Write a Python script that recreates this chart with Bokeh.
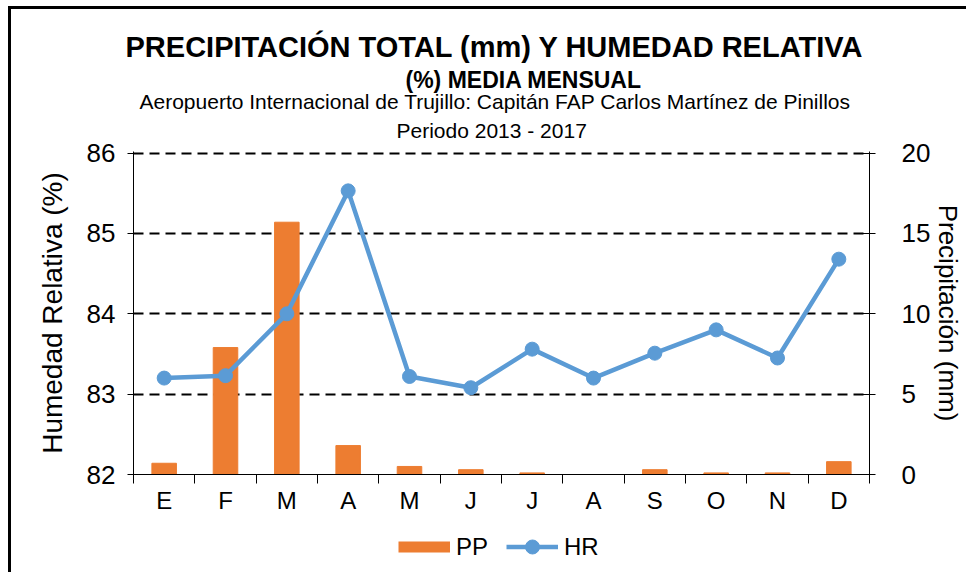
from bokeh.plotting import figure
from bokeh.layouts import column
from bokeh.models import (Range1d, LinearAxis, FixedTicker, Legend, LegendItem, Title,
                          ColumnDataSource)
from bokeh.embed import file_html
from bokeh.resources import INLINE

# ---- data ----
months = ["E", "F", "M", "A", "M", "J", "J", "A", "S", "O", "N", "D"]
pp = [0.7, 7.9, 15.7, 1.8, 0.5, 0.3, 0.1, 0.0, 0.3, 0.1, 0.1, 0.8]
hr = [83.20, 83.23, 84.00, 85.53, 83.22, 83.08, 83.56, 83.20, 83.51, 83.80, 83.45, 84.68]
hr_ticks = [82, 83, 84, 85, 86]
pp_ticks = [0, 5, 10, 15, 20]
series_names = ["PP", "HR"]

title1 = "PRECIPITACIÓN TOTAL (mm) Y HUMEDAD RELATIVA"
title2 = "(%) MEDIA MENSUAL"
sub1 = "Aeropuerto Internacional de Trujillo:  Capitán FAP Carlos Martínez de Pinillos"
sub2 = "Periodo 2013 - 2017"

FONT = "Liberation Sans"
ORANGE = "#ED7D31"
BLUE = "#5B9BD5"

xpos = [i + 0.5 for i in range(len(months))]
src = ColumnDataSource(dict(x=xpos, pp=pp, hr=hr))

pad = 0.02  # tiny headroom so the top dashed gridline is not clipped
hr_end = hr_ticks[-1] + pad
pp_end = pp_ticks[-1] * (hr_end - hr_ticks[0]) / (hr_ticks[-1] - hr_ticks[0])

W = 953
p = figure(width=W, height=511, frame_width=736, frame_height=323,
           x_range=Range1d(0, len(months)),
           y_range=Range1d(hr_ticks[0], hr_end),
           output_backend="svg", toolbar_location=None,
           min_border_left=122, min_border_right=95,
           min_border_top=142, min_border_bottom=46)
p.title.visible = False
p.outline_line_color = None
p.background_fill_color = "white"
p.border_fill_color = "white"

p.extra_y_ranges = {"pp": Range1d(pp_ticks[0], pp_end)}

bars = p.vbar(x="x", top="pp", bottom=0, width=0.4, source=src, y_range_name="pp",
              fill_color=ORANGE, line_color=ORANGE)
ln = p.line(x="x", y="hr", source=src, line_width=4.5, line_color=BLUE)
sc = p.scatter(x="x", y="hr", source=src, size=14, fill_color=BLUE, line_color=BLUE)

# left axis
ya = p.yaxis[0]
ya.ticker = FixedTicker(ticks=hr_ticks)
ya.axis_label = "Humedad Relativa (%)"
# right axis
ra = LinearAxis(y_range_name="pp", ticker=FixedTicker(ticks=pp_ticks),
                axis_label="Precipitación (mm)")
p.add_layout(ra, "right")

for ax in (ya, ra):
    ax.axis_line_color = "black"
    ax.major_tick_line_color = "black"
    ax.major_tick_in = 8
    ax.major_tick_out = 6
    ax.minor_tick_line_color = None
    ax.major_label_text_font = FONT
    ax.major_label_text_font_size = "26px"
    ax.major_label_text_color = "black"
    ax.axis_label_text_font = FONT
    ax.axis_label_text_font_style = "normal"
    ax.axis_label_text_color = "black"
ya.axis_label_text_font_size = "28px"
ra.axis_label_text_font_size = "26px"
ya.major_label_standoff = 12
ya.axis_label_standoff = 16
ra.major_label_standoff = 26
ra.axis_label_standoff = 0

xa = p.xaxis[0]
xa.ticker = FixedTicker(ticks=xpos, minor_ticks=list(range(len(months) + 1)))
xa.major_label_overrides = {xv: m for xv, m in zip(xpos, months)}
xa.major_tick_in = 0
xa.major_tick_out = 0
xa.minor_tick_in = 0
xa.minor_tick_out = 9
xa.minor_tick_line_color = "black"
xa.axis_line_color = "black"
xa.major_label_text_font = FONT
xa.major_label_text_font_size = "24px"
xa.major_label_text_color = "black"
xa.major_label_standoff = 3

p.xgrid.visible = False
p.ygrid.ticker = FixedTicker(ticks=hr_ticks)
p.ygrid.grid_line_color = "black"
p.ygrid.grid_line_width = 2
p.ygrid.grid_line_dash = "10 6"


def mk_title(txt, size, style, off, stand, align="left"):
    return Title(text=txt, align=align, offset=off, standoff=stand,
                 text_font=FONT, text_font_size=size, text_font_style=style,
                 text_color="black")


# titles: added nearest-to-frame first
titles = [mk_title(sub2, "21px", "normal", 263, 19),
          mk_title(sub1, "21px", "normal", 6, -11),
          mk_title(title2, "23px", "bold", 272, 2),
          mk_title(title1, "29px", "bold", -8, 1)]
for t in titles:
    p.add_layout(t, "above")

# ---- legend strip below the chart ----
# same data source; the strip's y range lies below all values, so only the legend keys show
pl = figure(width=W, height=52, x_range=Range1d(0, len(months)), y_range=Range1d(-2, -1),
            output_backend="svg", toolbar_location=None,
            min_border=0, min_border_left=0, min_border_right=0,
            min_border_top=0, min_border_bottom=0)
pl.axis.visible = False
pl.grid.visible = False
pl.outline_line_color = None
pl.border_fill_color = "white"
pl.title.visible = False
k_pp = pl.line(x="x", y="pp", source=src, line_width=11, line_color=ORANGE, line_cap="butt")
k_ln = pl.line(x="x", y="hr", source=src, line_width=4.5, line_color=BLUE)
k_sc = pl.scatter(x="x", y="hr", source=src, size=14, fill_color=BLUE, line_color=BLUE)
legend = Legend(items=[LegendItem(label=series_names[0], renderers=[k_pp]),
                       LegendItem(label=series_names[1], renderers=[k_ln, k_sc])],
                location=(265, 8), orientation="horizontal",
                padding=0, margin=0, spacing=18, label_standoff=6,
                glyph_width=52, glyph_height=35,
                label_text_font=FONT, label_text_font_size="24px", label_text_color="black",
                border_line_color=None, background_fill_alpha=0)
pl.add_layout(legend)

layout = column(p, pl, spacing=0,
                styles={"border-left": "3px solid black", "border-top": "3px solid black",
                        "margin-left": "8px", "margin-top": "6px"})

open("out.html", "w").write(file_html(layout, INLINE))
